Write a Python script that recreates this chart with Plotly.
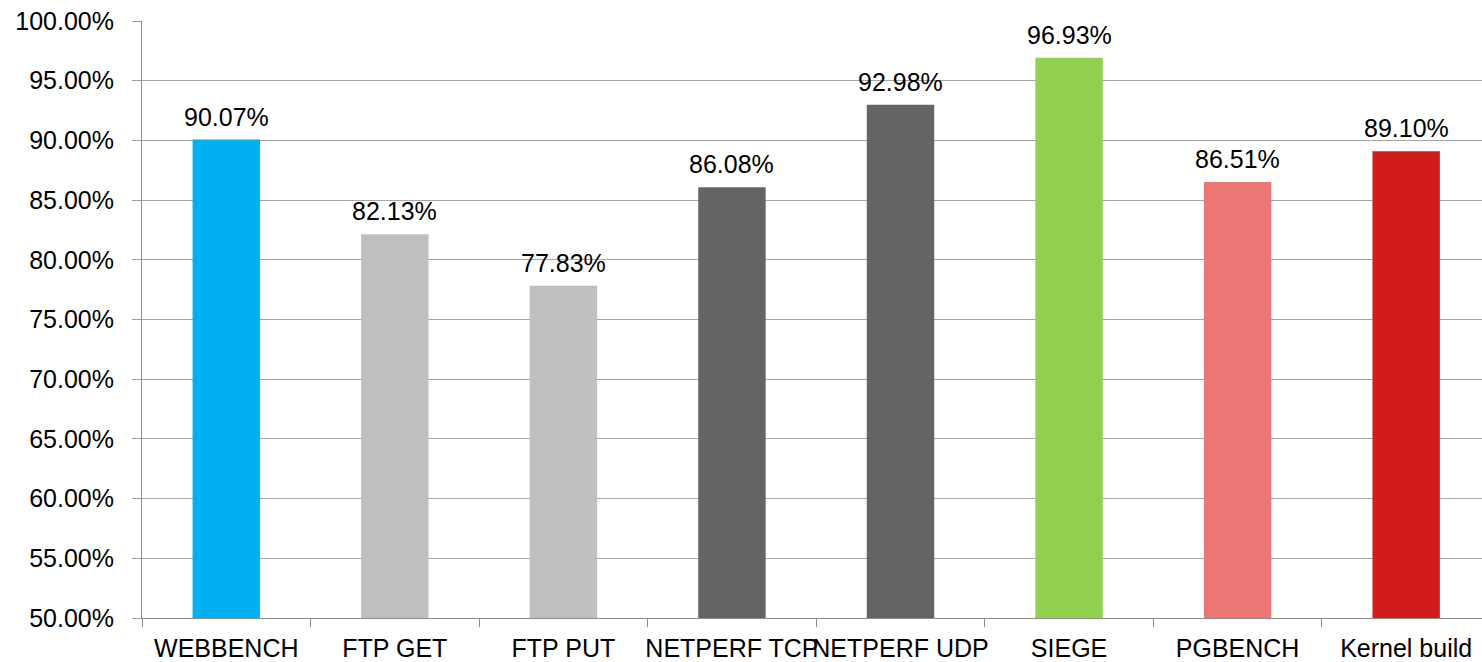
import plotly.graph_objects as go

categories = ["WEBBENCH", "FTP GET", "FTP PUT", "NETPERF TCP", "NETPERF UDP", "SIEGE", "PGBENCH", "Kernel build"]
values = [0.9007, 0.8213, 0.7783, 0.8608, 0.9298, 0.9693, 0.8651, 0.8910]
labels = ["90.07%", "82.13%", "77.83%", "86.08%", "92.98%", "96.93%", "86.51%", "89.10%"]
colors = ["#00B0F0", "#BFBFBF", "#BFBFBF", "#646464", "#646464", "#92D050", "#EC7676", "#D21B1B"]

FONT = "Liberation Sans, Arial, sans-serif"

fig = go.Figure()
fig.add_trace(go.Bar(
    x=categories, y=values, marker=dict(color=colors, line=dict(width=0)),
    width=0.4, hoverinfo="skip",
))

for c, v, t in zip(categories, values, labels):
    fig.add_annotation(x=c, y=v, text=t, showarrow=False, yanchor="bottom",
                       yshift=7, font=dict(family=FONT, size=25, color="#000000"))

fig.update_layout(
    width=1482, height=662,
    margin=dict(l=142, r=0, t=21, b=44),
    paper_bgcolor="white", plot_bgcolor="white",
    showlegend=False,
    bargap=0.6,
)
fig.update_xaxes(
    type="category", range=[-0.5, 7.45],
    showline=True, linecolor="#8C8C8C", linewidth=1,
    ticks="outside", tickson="boundaries", ticklen=8, tickcolor="#8C8C8C",
    tickangle=0, showgrid=False, ticklabelstandoff=8,
    tickfont=dict(family=FONT, size=25, color="#000000"),
)
fig.update_yaxes(
    range=[0.5, 1.0], dtick=0.05, tick0=0.5, tickformat=".2%",
    showline=True, linecolor="#8C8C8C", linewidth=1,
    ticks="outside", ticklen=9, tickcolor="#A0A0A0",
    showgrid=True, gridcolor="#A6A6A6", gridwidth=1,
    ticklabelstandoff=13, zeroline=False,
    tickfont=dict(family=FONT, size=25, color="#000000"),
)

fig.write_html("out.html")
